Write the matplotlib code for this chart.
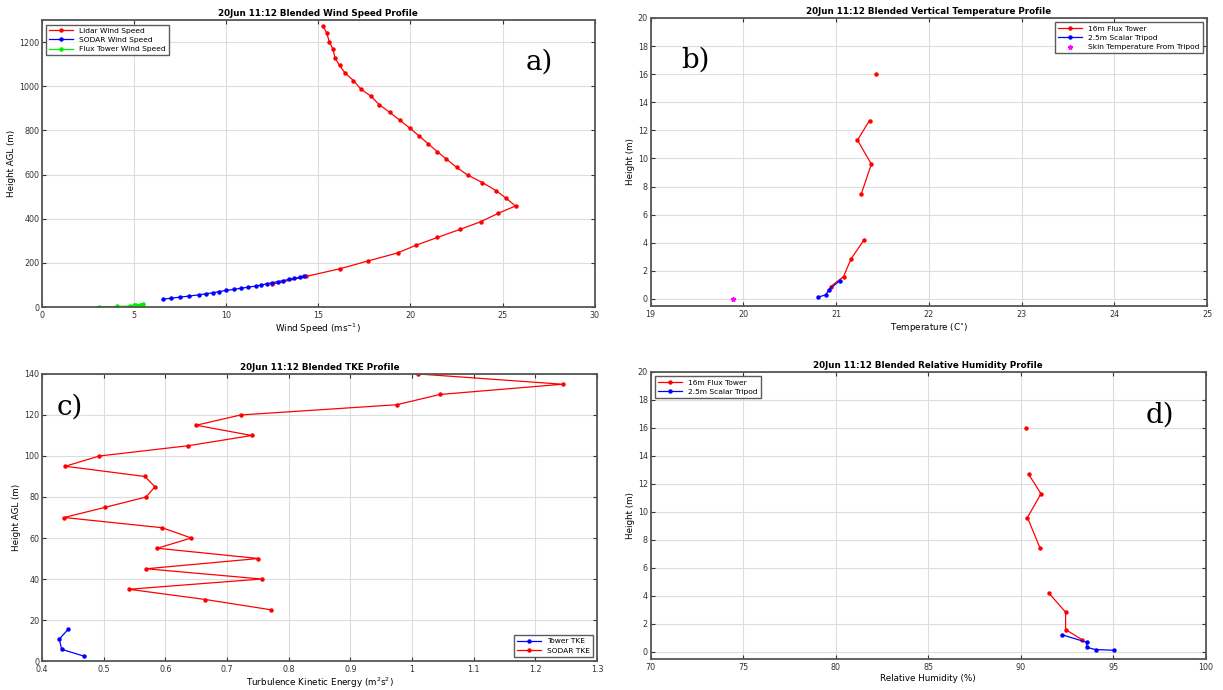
import numpy as np
import matplotlib
matplotlib.use("Agg")
import matplotlib.pyplot as plt

nan = np.nan

# a) wind speed
lidar_ws = [12.5, 14.35, 16.2, 17.7, 19.3, 20.3, 21.45, 22.7, 23.8, 24.75, 25.7,
            25.2, 24.65, 23.9, 23.1, 22.5, 21.95, 21.45, 20.97, 20.45, 19.97, 19.44,
            18.87, 18.3, 17.85, 17.3, 16.9, 16.45, 16.15, 15.9, 15.8, 15.6, 15.45, 15.25]
lidar_h = [103, 139, 174, 209, 245, 280, 315, 352, 386, 424, 458,
           492, 527, 564, 598, 633, 670, 704, 739, 776, 810, 845,
           882, 917, 955, 988, 1026, 1060, 1094, 1129, 1167, 1200, 1242, 1273]
sodar_ws = [6.55, 7.0, 7.5, 8.0, 8.5, 8.9, 9.3, 9.6, 10.0, 10.4, 10.8, 11.2,
            11.6, 11.9, 12.2, 12.5, 12.8, 13.1, 13.4, 13.7, 14.0, 14.2]
sodar_h = [35, 40, 45, 50, 55, 60, 65, 70, 75, 80, 85, 90,
           95, 100, 105, 110, 115, 120, 125, 130, 135, 140]
tower_ws = [3.1, 4.1, 4.8, 5.0, 5.1, 5.3, 5.5]
tower_h = [0.9, 2.8, 4.2, 7.5, 9.6, 11.3, 16.0]

# b) temperature
t16_temp = [20.94, 21.08, 21.16, 21.30, nan, 21.27, 21.38, 21.23, 21.36, nan, 21.43]
t16_h = [0.88, 1.6, 2.84, 4.2, 5.8, 7.45, 9.6, 11.3, 12.7, 14.3, 16.0]
trip_temp = [21.04, 20.92, 20.89, 20.80]
trip_h = [1.3, 0.66, 0.3, 0.12]
skin_temp = [19.89]
skin_h = [0.0]

# c) TKE
sodar_tke = [0.771, 0.665, 0.541, 0.756, 0.569, 0.751, 0.587, 0.642, 0.595, 0.436,
             0.503, 0.569, 0.583, 0.567, 0.438, 0.493, 0.637, 0.740, 0.650, 0.722,
             0.975, 1.045, 1.244, 1.010]
sodar_tke_h = list(range(25, 141, 5))
tower_tke = [0.443, 0.428, 0.432, 0.468]
tower_tke_h = [15.6, 10.7, 5.7, 2.4]

# d) relative humidity
t16_rh = [93.3, 92.42, 92.42, 91.52, nan, 91.03, 90.36, 91.09, 90.42, nan, 90.3]
trip_rh = [92.2, 93.56, 93.56, 94.04, 95.03]
trip_rh_h = [1.24, 0.69, 0.33, 0.17, 0.12]

fs = 5.8
fig = plt.figure(figsize=(12.23, 6.90), dpi=100)
axa = fig.add_axes([0.0343, 0.555, 0.452, 0.416])
axb = fig.add_axes([0.532, 0.5565, 0.455, 0.4175])
axc = fig.add_axes([0.0343, 0.042, 0.454, 0.416])
axd = fig.add_axes([0.532, 0.045, 0.454, 0.416])


def style(ax, title, xlabel, ylabel):
    ax.grid(True, color='#dddddd', lw=0.8)
    ax.set_axisbelow(True)
    ax.tick_params(direction='in', top=True, right=True, labelsize=fs, length=3,
                   colors='#333333', pad=2)
    ax.tick_params(axis='x', pad=3)
    for s in ax.spines.values():
        s.set_linewidth(1.3)
        s.set_color('#555555')
    ax.set_title(title, fontsize=6.3, fontweight='bold', pad=3)
    ax.set_xlabel(xlabel, fontsize=6.3, labelpad=1)
    ax.set_ylabel(ylabel, fontsize=6.3, labelpad=2)


def legend(ax, loc):
    ax.legend(loc=loc, fontsize=5.4, fancybox=False, edgecolor='#333333',
              borderpad=0.4, labelspacing=0.4, handlelength=3.2, borderaxespad=0.6)


kw = dict(marker='o', ms=2.2, lw=0.9)

axa.plot(lidar_ws, lidar_h, color='red', label='Lidar Wind Speed', **kw)
axa.plot(sodar_ws, sodar_h, color='blue', label='SODAR Wind Speed', **kw)
axa.plot(tower_ws, tower_h, color='#00ee00', label='Flux Tower Wind Speed', **kw)
axa.set_xlim(0, 30)
axa.set_ylim(0, 1300)
axa.set_yticks(range(0, 1201, 200))
style(axa, '20Jun 11:12 Blended Wind Speed Profile', 'Wind Speed (ms$^{-1}$)', 'Height AGL (m)')
legend(axa, 'upper left')
axa.text(0.9, 0.855, 'a)', transform=axa.transAxes, fontsize=20, family='DejaVu Serif',
         ha='center', va='center')

axb.plot(t16_temp, t16_h, color='red', label='16m Flux Tower', **kw)
axb.plot(trip_temp, trip_h, color='blue', label='2.5m Scalar Tripod', **kw)
axb.plot(skin_temp, skin_h, ls='none', marker='*', ms=3.5, color='magenta',
         label='Skin Temperature From Tripod')
axb.set_xlim(19, 25)
axb.set_ylim(-0.5, 20)
axb.set_yticks(range(0, 21, 2))
style(axb, '20Jun 11:12 Blended Vertical Temperature Profile', 'Temperature (C$^{\\circ}$)', 'Height (m)')
legend(axb, 'upper right')
axb.text(0.08, 0.855, 'b)', transform=axb.transAxes, fontsize=20, family='DejaVu Serif',
         ha='center', va='center')

axc.plot(tower_tke, tower_tke_h, color='blue', label='Tower TKE', **kw)
axc.plot(sodar_tke, sodar_tke_h, color='red', label='SODAR TKE', **kw)
axc.set_xlim(0.4, 1.3)
axc.set_ylim(0, 140)
axc.set_xticks(np.arange(0.4, 1.31, 0.1))
axc.set_xticklabels(['0.4', '0.5', '0.6', '0.7', '0.8', '0.9', '1', '1.1', '1.2', '1.3'])
style(axc, '20Jun 11:12 Blended TKE Profile', 'Turbulence Kinetic Energy (m$^2$s$^2$)', 'Height AGL (m)')
legend(axc, 'lower right')
axc.text(0.05, 0.885, 'c)', transform=axc.transAxes, fontsize=20, family='DejaVu Serif',
         ha='center', va='center')

axd.plot(t16_rh, t16_h, color='red', label='16m Flux Tower', **kw)
axd.plot(trip_rh, trip_rh_h, color='blue', label='2.5m Scalar Tripod', **kw)
axd.set_xlim(70, 100)
axd.set_ylim(-0.5, 20)
axd.set_yticks(range(0, 21, 2))
style(axd, '20Jun 11:12 Blended Relative Humidity Profile', 'Relative Humidity (%)', 'Height (m)')
legend(axd, 'upper left')
axd.text(0.917, 0.85, 'd)', transform=axd.transAxes, fontsize=20, family='DejaVu Serif',
         ha='center', va='center')

fig.savefig('out.png', dpi=100)
